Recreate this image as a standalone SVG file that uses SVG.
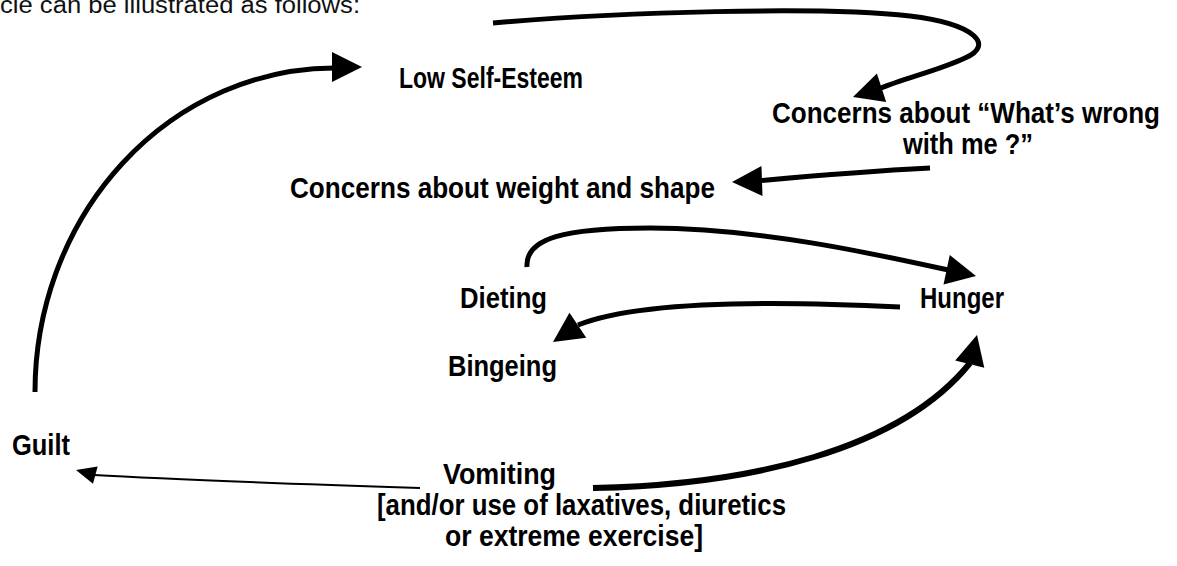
<svg xmlns="http://www.w3.org/2000/svg" xmlns:xlink="http://www.w3.org/1999/xlink" width="1177" height="566" viewBox="0 0 1177 566">
<style>
.bg{fill:#fff}
.lbl{font-family:"Liberation Sans Narrow","Liberation Sans",Arial,sans-serif;font-weight:bold;font-size:30px;fill:#000}
.intro{font-family:"Liberation Sans Narrow","Liberation Sans",Arial,sans-serif;font-weight:normal;font-size:23px;fill:#111}
.ln{fill:none;stroke:#000;stroke-width:5;stroke-linecap:butt}
.thin{fill:none;stroke:#000;stroke-width:2}
.head{fill:#000}
</style>
<defs>
<path id="ah" d="M0,0 L-30,-15 L-30,15 Z"/>
<path id="ahs" d="M0,0 L-20,-9 L-20,9 Z"/>
</defs>
<rect class="bg" x="0" y="0" width="1177" height="566"/>
<text class="intro" x="0" y="13" textLength="360" lengthAdjust="spacingAndGlyphs">cle can be illustrated as follows:</text>

<g id="connectors">
<path class="ln" d="M35,392 A300,324 0 0 1 334,68"/>
<use class="head" xlink:href="#ah" href="#ah" transform="translate(362,67)"/>
<path class="ln" d="M493,23 C620,12 820,6 910,16 C975,24 995,45 965,58 C940,70 905,78 881,88"/>
<use class="head" xlink:href="#ah" href="#ah" transform="translate(853,97) rotate(162)"/>
<path class="ln" d="M930,168 C870,171 800,177 757,181"/>
<use class="head" xlink:href="#ah" href="#ah" transform="translate(732,182) rotate(178)"/>
<path class="ln" d="M527,267 C525,238 565,228 650,228 C760,228 880,255 948,270"/>
<use class="head" xlink:href="#ah" href="#ah" transform="translate(976,276) rotate(12)"/>
<path class="ln" d="M900,307 C780,301 640,300 578,325"/>
<use class="head" xlink:href="#ah" href="#ah" transform="translate(553,342) rotate(146)"/>
<path class="ln" style="stroke-width:6" d="M593,488 C750,485 900,450 970,363"/>
<use class="head" xlink:href="#ah" href="#ah" transform="translate(977,335) rotate(-76)"/>
<path class="thin" d="M420,488 C300,484 180,480 94,475"/>
<use class="head" xlink:href="#ahs" href="#ahs" transform="translate(76,470) rotate(195)"/>
</g>

<g id="low-self-esteem"><text class="lbl" x="399" y="88" textLength="184" lengthAdjust="spacingAndGlyphs">Low Self-Esteem</text></g>
<g id="concerns-wrong">
<text class="lbl" x="772" y="123" textLength="388" lengthAdjust="spacingAndGlyphs">Concerns about “What’s wrong</text>
<text class="lbl" x="903" y="154" textLength="130" lengthAdjust="spacingAndGlyphs">with me ?”</text>
</g>
<g id="concerns-weight"><text class="lbl" x="290" y="198" textLength="425" lengthAdjust="spacingAndGlyphs">Concerns about weight and shape</text></g>
<g id="dieting"><text class="lbl" x="460" y="308" textLength="87" lengthAdjust="spacingAndGlyphs">Dieting</text></g>
<g id="hunger"><text class="lbl" x="920" y="308" textLength="84" lengthAdjust="spacingAndGlyphs">Hunger</text></g>
<g id="bingeing"><text class="lbl" x="448" y="376" textLength="109" lengthAdjust="spacingAndGlyphs">Bingeing</text></g>
<g id="guilt"><text class="lbl" x="12" y="455" textLength="58" lengthAdjust="spacingAndGlyphs">Guilt</text></g>
<g id="vomiting">
<text class="lbl" x="443" y="484" textLength="113" lengthAdjust="spacingAndGlyphs">Vomiting</text>
<text class="lbl" x="377" y="515" textLength="409" lengthAdjust="spacingAndGlyphs">[and/or use of laxatives, diuretics</text>
<text class="lbl" x="445" y="546" textLength="258" lengthAdjust="spacingAndGlyphs">or extreme exercise]</text>
</g>
</svg>
